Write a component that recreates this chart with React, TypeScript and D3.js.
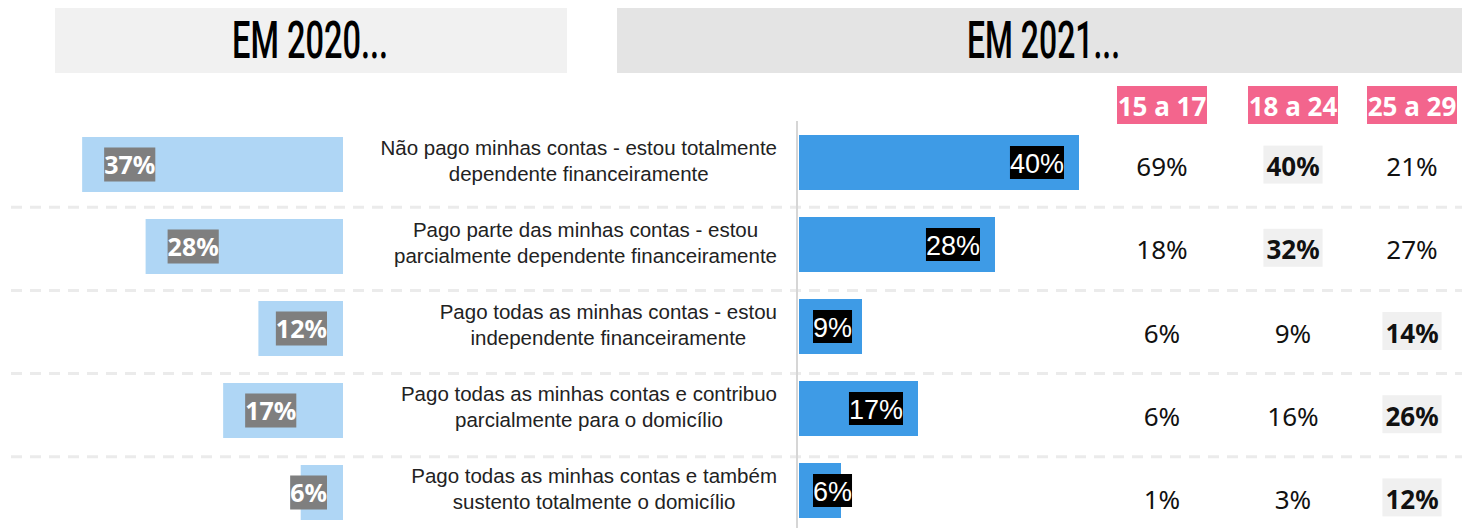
import React from "react";
import * as d3 from "d3";

const titles = ["Em 2020...", "Em 2021..."];
const categories: string[][] = [
  ["Não pago minhas contas - estou totalmente", "dependente financeiramente"],
  ["Pago parte das minhas contas - estou", "parcialmente dependente financeiramente"],
  ["Pago todas as minhas contas - estou", "independente financeiramente"],
  ["Pago todas as minhas contas e contribuo", "parcialmente para o domicílio"],
  ["Pago todas as minhas contas e também", "sustento totalmente o domicílio"],
];
const values2020 = [37, 28, 12, 17, 6];
const values2021 = [40, 28, 9, 17, 6];
const ageGroups = ["15 a 17", "18 a 24", "25 a 29"];
const age15to17 = [69, 18, 6, 6, 1];
const age18to24 = [40, 32, 9, 16, 3];
const age25to29 = [21, 27, 14, 26, 12];
const highlightAge = [1, 1, 2, 2, 2];

if (typeof document !== "undefined") {
  document.body.style.margin = "0";
  document.body.style.overflow = "hidden";
}

const W = 1462;
const H = 528;

let ctx: CanvasRenderingContext2D | null = null;
function measure(text: string, font: string): number {
  if (!ctx) ctx = document.createElement("canvas").getContext("2d");
  if (!ctx) return text.length * 10;
  ctx.font = font;
  return ctx.measureText(text).width;
}

const CAT_FONT = "'Liberation Sans', Arial, sans-serif";
const NUM_FONT = "'Noto Sans', sans-serif";
const TITLE_FONT = "Roboto, 'Liberation Sans', sans-serif";

export default function App() {
  const idx = d3.range(categories.length).map(String);

  // row band (table / separators)
  const rowY = d3.scaleBand<string>().domain(idx).range([125, 541]);
  // bar band
  const barY = d3
    .scaleBand<string>()
    .domain(idx)
    .range([135, 518])
    .paddingInner(27 / 82)
    .paddingOuter(0);

  const leftBase = 343;
  const rightBase = 799;
  const axisX = 797;
  const xL = d3.scaleLinear().domain([0, 40]).range([0, 282]);
  const xR = d3.scaleLinear().domain([0, 40]).range([0, 280]);

  const colX = d3.scaleOrdinal<string, number>().domain(ageGroups).range([1162, 1293, 1412]);
  const ageSeries = [age15to17, age18to24, age25to29];

  const catRight = 777;

  const leftLabelFont = `bold 25px ${NUM_FONT}`;
  const rightLabelFont = `27px ${CAT_FONT}`;

  const titleProps = {
    textAnchor: "middle" as const,
    fontFamily: TITLE_FONT,
    fontWeight: 500,
    fontSize: 52,
    lengthAdjust: "spacingAndGlyphs",
    style: { textTransform: "uppercase" as const },
    fill: "#000",
  };

  return (
    <svg width={W} height={H} style={{ display: "block", background: "#fff" }}>
      {/* Headers */}
      <rect x={55} y={8} width={512} height={65} fill="#f1f1f1" />
      <rect x={617} y={8} width={W - 617} height={65} fill="#e4e4e4" />
      <text x={310} y={58} textLength={156} {...titleProps}>
        {titles[0]}
      </text>
      <text x={1043.5} y={58} textLength={153} {...titleProps}>
        {titles[1]}
      </text>

      {/* Age group headers */}
      {ageGroups.map((g) => (
        <g key={g}>
          <rect x={colX(g) - 45} y={86} width={90} height={38} fill="#f3658d" />
          <text
            x={colX(g)}
            y={116}
            textAnchor="middle"
            fontFamily={NUM_FONT}
            fontWeight="bold"
            fontSize={26}
            fill="#fff"
          >
            {g}
          </text>
        </g>
      ))}

      {/* separators */}
      {idx.slice(1).map((k) => (
        <line
          key={"sep" + k}
          x1={11}
          x2={W}
          y1={(rowY(k) as number) - 1}
          y2={(rowY(k) as number) - 1}
          stroke="#ebebeb"
          strokeWidth={3}
          strokeDasharray="11 8"
        />
      ))}

      {/* axis line */}
      <line x1={axisX} x2={axisX} y1={121} y2={H} stroke="#d6d6d6" strokeWidth={2} />

      {categories.map((lines, i) => {
        const k = String(i);
        const by = barY(k) as number;
        const bh = barY.bandwidth();
        const bc = by + bh / 2;
        const rc = (rowY(k) as number) + rowY.bandwidth() / 2;

        // left bar
        const lw = xL(values2020[i]);
        const lLeft = leftBase - lw;
        const lText = `${values2020[i]}%`;
        const lTw = measure(lText, leftLabelFont);
        const lBoxX = Math.min(lLeft + 22, leftBase - 16 - lTw);

        // right bar
        const rw = xR(values2021[i]);
        const rRight = rightBase + rw;
        const rText = `${values2021[i]}%`;
        const rTw = measure(rText, rightLabelFont);
        const rBoxX = Math.max(axisX + 16, rRight - 15 - rTw);

        // category label block
        const fs = 20.5;
        const blockW = Math.max(...lines.map((l) => measure(l, `${fs}px ${CAT_FONT}`)));
        const cx = catRight - blockW / 2;

        return (
          <g key={k}>
            <rect x={lLeft} y={by + 2} width={lw} height={bh} fill="#afd6f5" />
            <rect x={lBoxX} y={bc + 2 - 17} width={lTw} height={34} fill="#7f7f7f" />
            <text
              x={lBoxX + lTw / 2}
              y={bc + 2 + 9}
              textAnchor="middle"
              fontFamily={NUM_FONT}
              fontWeight="bold"
              fontSize={25}
              fill="#fff"
            >
              {lText}
            </text>

            <rect x={rightBase} y={by} width={rw} height={bh} fill="#3e9be6" />
            <rect x={rBoxX} y={bc - 16.5} width={rTw} height={33} fill="#000" />
            <text
              x={rBoxX + rTw / 2}
              y={bc + 10}
              textAnchor="middle"
              fontFamily={CAT_FONT}
              fontSize={27}
              fill="#fff"
            >
              {rText}
            </text>

            {lines.map((l, j) => (
              <text
                key={j}
                x={cx}
                y={bc - 8 + j * 26}
                textAnchor="middle"
                fontFamily={CAT_FONT}
                fontSize={fs}
                fill="#222"
              >
                {l}
              </text>
            ))}

            {ageGroups.map((g, c) => {
              const v = `${ageSeries[c][i]}%`;
              const hl = highlightAge[i] === c;
              const tw = measure(v, `bold 26px ${NUM_FONT}`);
              return (
                <g key={g}>
                  {hl && (
                    <rect x={colX(g) - tw / 2 - 3} y={rc - 21} width={tw + 6} height={38} fill="#f0f0f0" />
                  )}
                  <text
                    x={colX(g)}
                    y={rc + 9.5}
                    textAnchor="middle"
                    fontFamily={NUM_FONT}
                    fontWeight={hl ? "bold" : "normal"}
                    fontSize={26}
                    fill="#111"
                  >
                    {v}
                  </text>
                </g>
              );
            })}
          </g>
        );
      })}
    </svg>
  );
}
